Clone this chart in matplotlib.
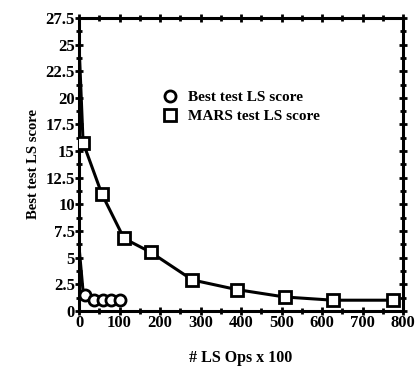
import matplotlib
matplotlib.use("Agg")
import matplotlib.pyplot as plt
import numpy as np

# dados
ops_best = [0, 10, 15, 38, 58, 78, 100]
score_best = [6.0, 1.8, 1.5, 1.0, 1.0, 1.0, 1.0]
marca_best = [False, False, True, True, True, True, True]

ops_mars = [0, 10, 56, 111, 177, 280, 389, 508, 627, 775]
score_mars = [25.0, 15.8, 11.0, 6.8, 5.5, 2.9, 2.0, 1.3, 1.0, 1.0]

plt.rcParams['font.family'] = ['Liberation Serif', 'DejaVu Serif']
plt.rcParams['font.weight'] = 'bold'
plt.rcParams['axes.labelweight'] = 'bold'

fig = plt.figure(figsize=(4.16, 3.67), dpi=100)
ax = fig.add_axes([0.19, 0.153, 0.779, 0.798])

# linhas com marcadores abertos
ax.plot(ops_best, score_best, color='k', lw=2.2, zorder=3)
xb = [x for x, m in zip(ops_best, marca_best) if m]
yb = [y for y, m in zip(score_best, marca_best) if m]
ax.plot(xb, yb, linestyle='none', marker='o', ms=8, mfc='white',
        mec='k', mew=2, zorder=4, label='Best test LS score')

ax.plot(ops_mars, score_mars, color='k', lw=2.2, zorder=3)
ax.plot(ops_mars[1:], score_mars[1:], linestyle='none', marker='s', ms=8,
        mfc='white', mec='k', mew=2, zorder=4, label='MARS test LS score')

ax.set_xlim(0, 800)
ax.set_ylim(0, 27.5)
ax.set_xticks(np.arange(0, 801, 100))
ax.set_yticks(np.arange(0, 27.6, 2.5))
ax.set_yticklabels(['0', '2.5', '5', '7.5', '10', '12.5', '15', '17.5',
                    '20', '22.5', '25', '27.5'])
ax.set_xticks(np.arange(0, 801, 50), minor=True)
ax.set_yticks(np.arange(0, 27.6, 1.25), minor=True)

ax.tick_params(which='both', direction='inout', width=2, labelsize=12,
               pad=0)
ax.tick_params(which='major', length=6)
ax.tick_params(which='minor', length=4)
ax.tick_params(which='both', top=True, right=True)
for s in ax.spines.values():
    s.set_linewidth(2.2)

ax.set_xlabel('# LS Ops x 100', fontsize=11.5, labelpad=14)
ax.set_ylabel('Best test LS score', fontsize=10.5, labelpad=4)

ax.legend(loc='upper left', bbox_to_anchor=(0.215, 0.8), frameon=False,
          fontsize=11, handletextpad=0.7, labelspacing=0.35,
          handlelength=1.0)

fig.savefig('out.png', dpi=100)
